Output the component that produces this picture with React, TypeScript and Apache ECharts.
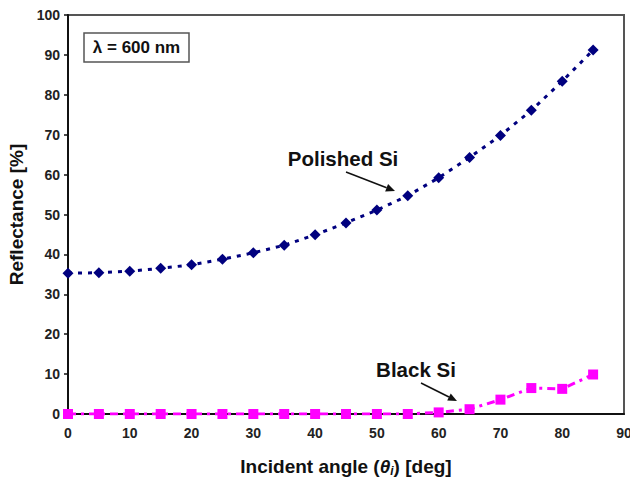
import React, { useEffect, useRef } from "react";
import * as echarts from "echarts";

const angles = [0, 5, 10, 15, 20, 25, 30, 35, 40, 45, 50, 55, 60, 65, 70, 75, 80, 85];
const polishedSi = [35.3, 35.4, 35.8, 36.5, 37.4, 38.8, 40.4, 42.3, 44.9, 47.9, 51.1, 54.7, 59.2, 64.3, 69.8, 76.1, 83.4, 91.2];
const blackSi = [0, 0, 0, 0, 0, 0, 0, 0, 0, 0, 0, 0, 0.4, 1.2, 3.6, 6.5, 6.3, 9.9];
const xTicks = { min: 0, max: 90, interval: 10 };
const yTicks = { min: 0, max: 100, interval: 10 };

const FONT = "'Liberation Sans', Arial, sans-serif";

export default function App() {
  const ref = useRef<HTMLDivElement>(null);
  useEffect(() => {
    if (!ref.current) return;
    const chart = echarts.init(ref.current, undefined, { renderer: "svg" });
    const arrow = (x1: number, y1: number, x2: number, y2: number) => {
      const a = Math.atan2(y2 - y1, x2 - x1);
      const L = 9, W = 4;
      const bx = x2 - L * Math.cos(a), by = y2 - L * Math.sin(a);
      return [
        { type: "line", shape: { x1, y1, x2: bx, y2: by }, style: { stroke: "#111", lineWidth: 1.5 } },
        {
          type: "polygon",
          shape: {
            points: [
              [x2, y2],
              [bx + W * Math.sin(a), by - W * Math.cos(a)],
              [bx - W * Math.sin(a), by + W * Math.cos(a)],
            ],
          },
          style: { fill: "#111" },
        },
      ];
    };
    chart.setOption({
      animation: false,
      backgroundColor: "#fff",
      grid: {
        left: 68, top: 15, right: 6, bottom: 63,
        show: true, borderColor: "#555", borderWidth: 2,
        containLabel: false, outerBoundsMode: "none",
      },
      xAxis: {
        type: "value",
        ...xTicks,
        name: "{n|Incident angle (}{i|θ}{s|i}{n|) [deg]}",
        nameLocation: "middle",
        nameGap: 42,
        nameTextStyle: {
          rich: {
            n: { fontFamily: FONT, fontWeight: "bold", fontSize: 19, color: "#111" },
            i: { fontFamily: FONT, fontWeight: "bold", fontStyle: "italic", fontSize: 19, color: "#111" },
            s: { fontFamily: FONT, fontWeight: "bold", fontStyle: "italic", fontSize: 12, color: "#111", verticalAlign: "bottom", padding: [9, 0, 0, 0] },
          },
        },
        axisLine: { show: true, onZero: false, lineStyle: { color: "#111", width: 2 } },
        axisTick: { show: false },
        axisLabel: { fontFamily: FONT, fontWeight: "bold", fontSize: 14, color: "#222", margin: 12 },
        splitLine: { show: false },
      },
      yAxis: {
        type: "value",
        ...yTicks,
        name: "Reflectance [%]",
        nameLocation: "middle",
        nameGap: 41,
        nameTextStyle: { fontFamily: FONT, fontWeight: "bold", fontSize: 19, color: "#111" },
        axisLine: { show: true, onZero: false, lineStyle: { color: "#111", width: 2 } },
        axisTick: { show: true, length: 4, lineStyle: { color: "#111", width: 1.5 } },
        axisLabel: { fontFamily: FONT, fontWeight: "bold", fontSize: 14, color: "#222", margin: 8 },
        splitLine: { show: false },
      },
      series: [
        {
          name: "Polished Si",
          type: "line",
          data: angles.map((a, i) => [a, polishedSi[i]]),
          symbol: "diamond",
          symbolSize: 11,
          itemStyle: { color: "#00007f" },
          lineStyle: { color: "#00007f", width: 3, type: [4, 6] },
          z: 3,
        },
        {
          name: "Black Si",
          type: "line",
          data: angles.map((a, i) => [a, blackSi[i]]),
          symbol: "rect",
          symbolSize: 10,
          itemStyle: { color: "#ff00ff" },
          lineStyle: { color: "#ff00ff", width: 3, type: [8, 5, 3, 5] },
          z: 4,
        },
      ],
      graphic: [
        {
          type: "rect",
          shape: { x: 84, y: 33, width: 105, height: 29 },
          style: { fill: "#fff", stroke: "#555", lineWidth: 1.5 },
        },
        {
          type: "text",
          x: 136.5,
          y: 47.5,
          style: { text: "λ = 600 nm", fontFamily: FONT, fontWeight: "bold", fontSize: 17, fill: "#111", align: "center", verticalAlign: "middle" },
        },
        {
          type: "text",
          x: 343,
          y: 158,
          style: { text: "Polished Si", fontFamily: FONT, fontWeight: "bold", fontSize: 20.5, fill: "#111", align: "center", verticalAlign: "middle" },
        },
        ...arrow(346, 172, 395, 191),
        {
          type: "text",
          x: 416,
          y: 369,
          style: { text: "Black Si", fontFamily: FONT, fontWeight: "bold", fontSize: 20.5, fill: "#111", align: "center", verticalAlign: "middle" },
        },
        ...arrow(421, 383, 457, 401),
      ],
    });
    return () => chart.dispose();
  }, []);
  return <div ref={ref} style={{ width: 630, height: 477, position: "absolute", left: 0, top: 0 }} />;
}
